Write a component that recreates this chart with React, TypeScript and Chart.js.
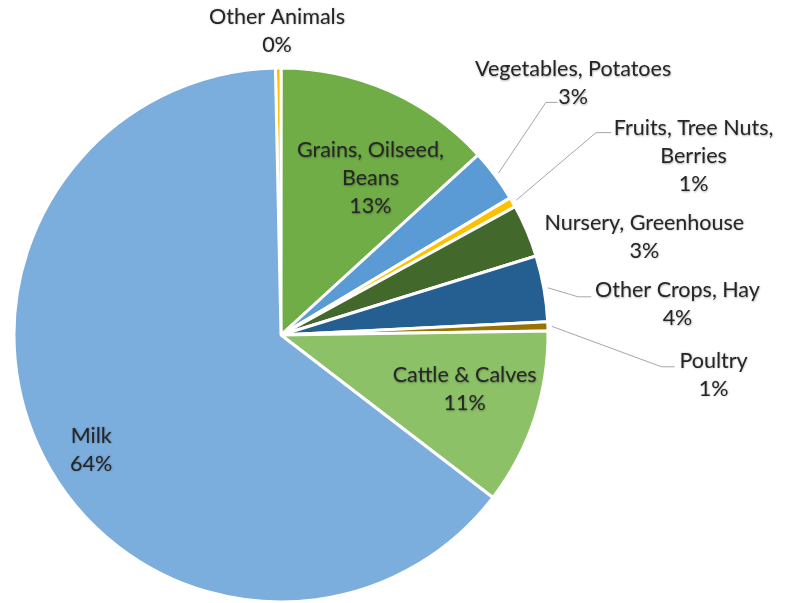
import React, { useEffect, useRef } from "react";
import { Chart, registerables } from "chart.js";

Chart.register(...registerables);

// ---- data ----
const CATEGORIES = [
  "Other Animals",
  "Grains, Oilseed, Beans",
  "Vegetables, Potatoes",
  "Fruits, Tree Nuts, Berries",
  "Nursery, Greenhouse",
  "Other Crops, Hay",
  "Poultry",
  "Cattle & Calves",
  "Milk",
];
const VALUES = [0.35, 13.2, 3.2, 0.6, 3.2, 4.0, 0.55, 10.65, 64.25];

// ---- presentation ----
const COLORS = [
  "#FFC000",
  "#70AD47",
  "#5B9BD5",
  "#FFC000",
  "#43682B",
  "#255E91",
  "#997300",
  "#8CC168",
  "#7BADDD",
];
const LABEL_LINES = [
  ["Other Animals"],
  ["Grains, Oilseed,", "Beans"],
  ["Vegetables, Potatoes"],
  ["Fruits, Tree Nuts,", "Berries"],
  ["Nursery, Greenhouse"],
  ["Other Crops, Hay"],
  ["Poultry"],
  ["Cattle & Calves"],
  ["Milk"],
];
// label block centre, as offset from pie centre in units of radius
const LABEL_OFFSET: [number, number][] = [
  [-0.015, -1.139],
  [0.335, -0.586],
  [1.094, -0.942],
  [1.545, -0.669],
  [1.361, -0.367],
  [1.485, -0.115],
  [1.62, 0.15],
  [0.688, 0.203],
  [-0.711, 0.43],
];
// leader lines: [elbowX, elbowY, endX] in units of radius (null = none)
const LEADERS: ([number, number, number] | null)[] = [
  null,
  null,
  [0.992, -0.871, 1.036],
  [1.18, -0.758, 1.237],
  null,
  [1.113, -0.143, 1.162],
  [1.425, 0.119, 1.474],
  null,
  null,
];

const FONT = '21.5px Lato, "Open Sans", sans-serif';
const LINE_H = 28;

const labelPlugin = {
  id: "pieLabels",
  afterDraw(chart: any) {
    const ctx = chart.ctx as CanvasRenderingContext2D;
    const meta = chart.getDatasetMeta(0);
    const data = chart.data.datasets[0].data as number[];
    const total = data.reduce((a, b) => a + b, 0);
    ctx.save();
    // leader lines
    meta.data.forEach((arc: any, i: number) => {
      const ld = LEADERS[i];
      if (!ld) return;
      const { x, y, outerRadius, startAngle, endAngle } = arc;
      const mid = (startAngle + endAngle) / 2;
      const r0 = outerRadius * 1.015;
      ctx.beginPath();
      ctx.strokeStyle = "#A6A6A6";
      ctx.lineWidth = 1;
      ctx.moveTo(x + Math.cos(mid) * r0, y + Math.sin(mid) * r0);
      ctx.lineTo(x + ld[0] * outerRadius, y + ld[1] * outerRadius);
      ctx.lineTo(x + ld[2] * outerRadius, y + ld[1] * outerRadius);
      ctx.stroke();
    });
    // texts
    ctx.font = FONT;
    ctx.textAlign = "center";
    ctx.textBaseline = "middle";
    ctx.fillStyle = "#262626";
    ctx.shadowColor = "rgba(0,0,0,0.35)";
    ctx.shadowBlur = 2;
    ctx.shadowOffsetX = 0.5;
    ctx.shadowOffsetY = 0.5;
    meta.data.forEach((arc: any, i: number) => {
      const { x, y, outerRadius } = arc;
      const pct = Math.round((data[i] / total) * 100) + "%";
      const lines = [...LABEL_LINES[i], pct];
      const cx = x + LABEL_OFFSET[i][0] * outerRadius;
      const cy = y + LABEL_OFFSET[i][1] * outerRadius;
      const n = lines.length;
      lines.forEach((t, k) => {
        ctx.fillText(t, cx, cy + (k - (n - 1) / 2) * LINE_H);
      });
    });
    ctx.restore();
  },
};

export default function App() {
  const ref = useRef<HTMLCanvasElement | null>(null);
  useEffect(() => {
    document.body.style.margin = "0";
    const canvas = ref.current!;
    const chart = new Chart(canvas, {
      type: "pie",
      data: {
        labels: CATEGORIES,
        datasets: [
          {
            data: VALUES,
            backgroundColor: COLORS,
            borderColor: "#FFFFFF",
            borderWidth: 3,
          },
        ],
      },
      options: {
        animation: false,
        responsive: false,
        devicePixelRatio: 1,
        rotation: -1.2,
        radius: 267,
        layout: { padding: { left: 0, right: 226, top: 67, bottom: 0 } },
        plugins: {
          legend: { display: false },
          tooltip: { enabled: false },
        },
      },
      plugins: [labelPlugin],
    } as any);
    return () => chart.destroy();
  }, []);
  return (
    <div style={{ width: 788, height: 603, background: "#fff" }}>
      <canvas ref={ref} width={788} height={603} />
    </div>
  );
}
